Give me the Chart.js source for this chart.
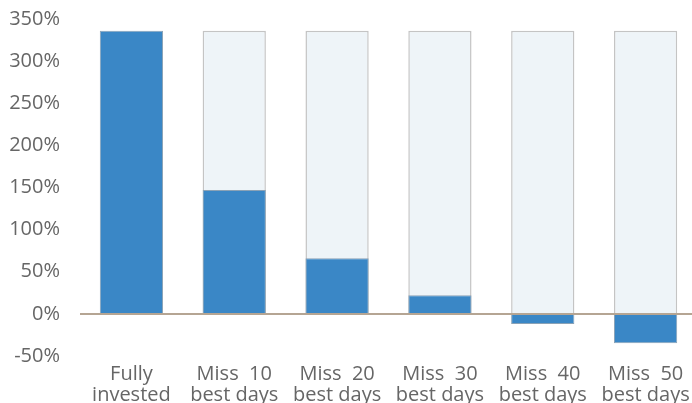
<!DOCTYPE html>
<html>
<head>
<meta charset="utf-8">
<script src="https://cdn.jsdelivr.net/npm/chart.js@4"></script>
<style>
  html, body { margin: 0; padding: 0; background: #fff; overflow: hidden; }
  #wrap { width: 700px; height: 403px; }
</style>
</head>
<body>
<div id="wrap"><canvas id="missedDaysChart"></canvas></div>
<script>
const categories = [
  ["Fully", "invested"],
  ["Miss  10", "best days"],
  ["Miss  20", "best days"],
  ["Miss  30", "best days"],
  ["Miss  40", "best days"],
  ["Miss  50", "best days"],
];
const returns = [336, 147, 66, 22, -12, -35];
const fullyInvested = [null, 336, 336, 336, 336, 336];
const yTicks = [-50, 0, 50, 100, 150, 200, 250, 300, 350];

const data = {
  labels: categories,
  datasets: [
    {
      label: "Return",
      data: returns,
      backgroundColor: "#3a87c6",
      borderColor: "#8aa2b6",
      borderWidth: 1,
      grouped: false,
      order: 0,
      barPercentage: 0.615,
      categoryPercentage: 1,
    },
    {
      label: "Fully invested",
      data: fullyInvested,
      backgroundColor: "#eef4f8",
      borderColor: "#c4c4c4",
      borderWidth: 1.5,
      grouped: false,
      order: 1,
      barPercentage: 0.615,
      categoryPercentage: 1,
    },
  ],
};

const config = {
  type: "bar",
  data: data,
  options: {
    responsive: true,
    maintainAspectRatio: false,
    animation: false,
    layout: { padding: { top: 19, left: 0, right: 3, bottom: 0 } },
    plugins: {
      legend: { display: false },
      tooltip: { enabled: false },
    },
    scales: {
      x: {
        afterFit: (axis) => {
          axis.height = 47;
        },
        grid: { display: false, drawTicks: false },
        border: { display: false },
        ticks: {
          color: "#666",
          font: { family: "Open Sans", size: 20, lineHeight: 1.05 },
          padding: 8,
          maxRotation: 0,
        },
      },
      y: {
        min: -50,
        max: 350,
        afterBuildTicks: (axis) => {
          axis.ticks = yTicks.map((v) => ({ value: v }));
        },
        afterFit: (axis) => {
          axis.width = 80;
          axis.paddingTop = 0;
          axis.paddingBottom = 0;
        },
        grid: {
          drawTicks: false,
          color: (ctx) => (ctx.tick && ctx.tick.value === 0 ? "#b5a593" : "rgba(0,0,0,0)"),
          lineWidth: 2,
        },
        border: { display: false },
        ticks: {
          color: "#666",
          font: { family: "Open Sans", size: 20 },
          padding: 20,
          callback: (value) => `${value}%`,
        },
      },
    },
  },
};

const missedDaysChart = document.getElementById("missedDaysChart");
new Chart(missedDaysChart, config);
</script>
</body>
</html>
